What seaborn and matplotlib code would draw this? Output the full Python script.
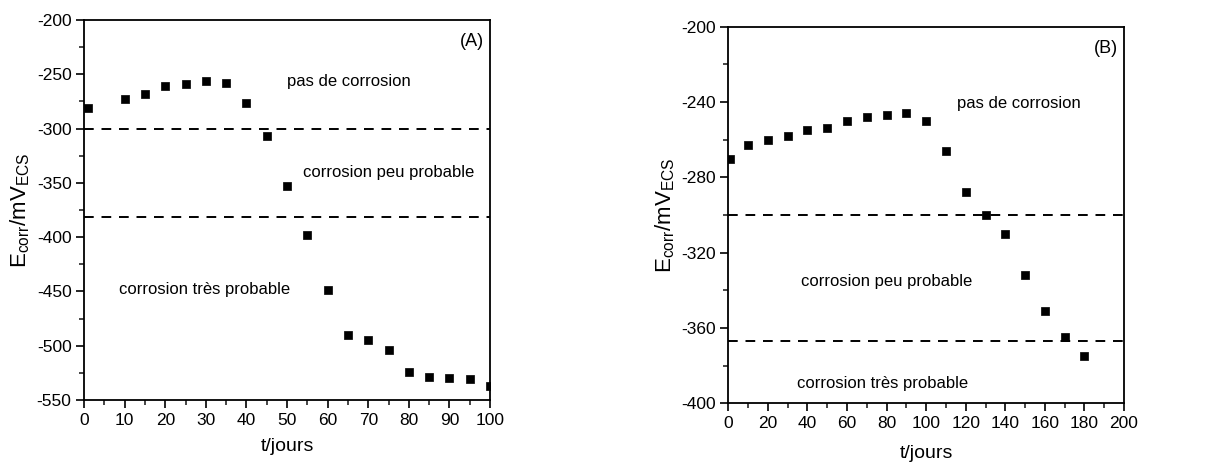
import numpy as np
import pandas as pd
import seaborn as sns
import matplotlib.pyplot as plt
from matplotlib.ticker import MultipleLocator

# Données
jours_a = [1, 10, 15, 20, 25, 30, 35, 40, 45, 50, 55, 60, 65, 70, 75, 80, 85, 90, 95, 100]
ecorr_a = [-281, -273, -268, -261, -259, -256, -258, -276, -307, -353, -398, -449,
           -490, -495, -504, -524, -529, -530, -531, -537]
seuils_a = [-300, -381]

jours_b = [1, 10, 20, 30, 40, 50, 60, 70, 80, 90, 100, 110, 120, 130, 140, 150, 160, 170, 180]
ecorr_b = [-270, -263, -260, -258, -255, -254, -250, -248, -247, -246, -250, -266,
           -288, -300, -310, -332, -351, -365, -375]
seuils_b = [-300, -367]

zones = ["pas de corrosion", "corrosion peu probable", "corrosion très probable"]

sns.set_style("ticks")
plt.rcParams['font.family'] = ['Liberation Sans', 'DejaVu Sans']
plt.rcParams['mathtext.fontset'] = 'custom'
plt.rcParams['mathtext.rm'] = 'Liberation Sans'
plt.rcParams['axes.unicode_minus'] = False
plt.rcParams['text.color'] = 'black'
plt.rcParams['axes.labelcolor'] = 'black'

fig = plt.figure(figsize=(12.27, 4.66), dpi=100)
ax1 = fig.add_axes([0.0685, 0.1416, 0.3309, 0.8155])
ax2 = fig.add_axes([0.5936, 0.1345, 0.3225, 0.808])


def panneau(ax, x, y, seuils, xlim, ylim, xmaj, xmin, ymaj, ymin, lettre, textes):
    df = pd.DataFrame({'t': x, 'E': y})
    sns.scatterplot(data=df, x='t', y='E', ax=ax, marker='s', s=38,
                    color='black', edgecolor='black', linewidth=0.5, zorder=3)
    for s in seuils:
        ax.axhline(s, color='black', linestyle=(0, (5, 4)), linewidth=1.4)
    ax.set_xlim(*xlim)
    ax.set_ylim(*ylim)
    ax.xaxis.set_major_locator(MultipleLocator(xmaj))
    ax.xaxis.set_minor_locator(MultipleLocator(xmin))
    ax.yaxis.set_major_locator(MultipleLocator(ymaj))
    ax.yaxis.set_minor_locator(MultipleLocator(ymin))
    ax.tick_params(which='major', direction='out', length=6, width=1.2,
                   labelsize=12.5, colors='black', pad=3)
    ax.tick_params(which='minor', direction='out', length=3.5, width=1.2)
    for sp in ax.spines.values():
        sp.set_visible(True)
        sp.set_linewidth(1.3)
        sp.set_color('black')
    ax.set_xlabel('t/jours', fontsize=14)
    ax.set_ylabel(r'E$_{\mathrm{corr}}$/mV$_{\mathrm{ECS}}$', fontsize=16)
    ax.text(0.985, 0.965, lettre, transform=ax.transAxes, ha='right', va='top',
            fontsize=13)
    for (tx, ty), lab in zip(textes, zones):
        ax.text(tx, ty, lab, fontsize=12, ha='left', va='center')


panneau(ax1, jours_a, ecorr_a, seuils_a, (0, 100), (-550, -200), 10, 5, 50, 25,
        '(A)', [(50, -257), (54, -340), (8.5, -448)])
panneau(ax2, jours_b, ecorr_b, seuils_b, (0, 200), (-400, -200), 20, 10, 40, 20,
        '(B)', [(115.5, -241), (36.5, -335.5), (34.5, -389.5)])

ax1.yaxis.set_label_coords(-0.128, 0.5)
ax2.yaxis.set_label_coords(-0.13, 0.5)
ax1.xaxis.set_label_coords(0.5, -0.1)
ax2.xaxis.set_label_coords(0.5, -0.11)

fig.savefig('out.png', dpi=100)
